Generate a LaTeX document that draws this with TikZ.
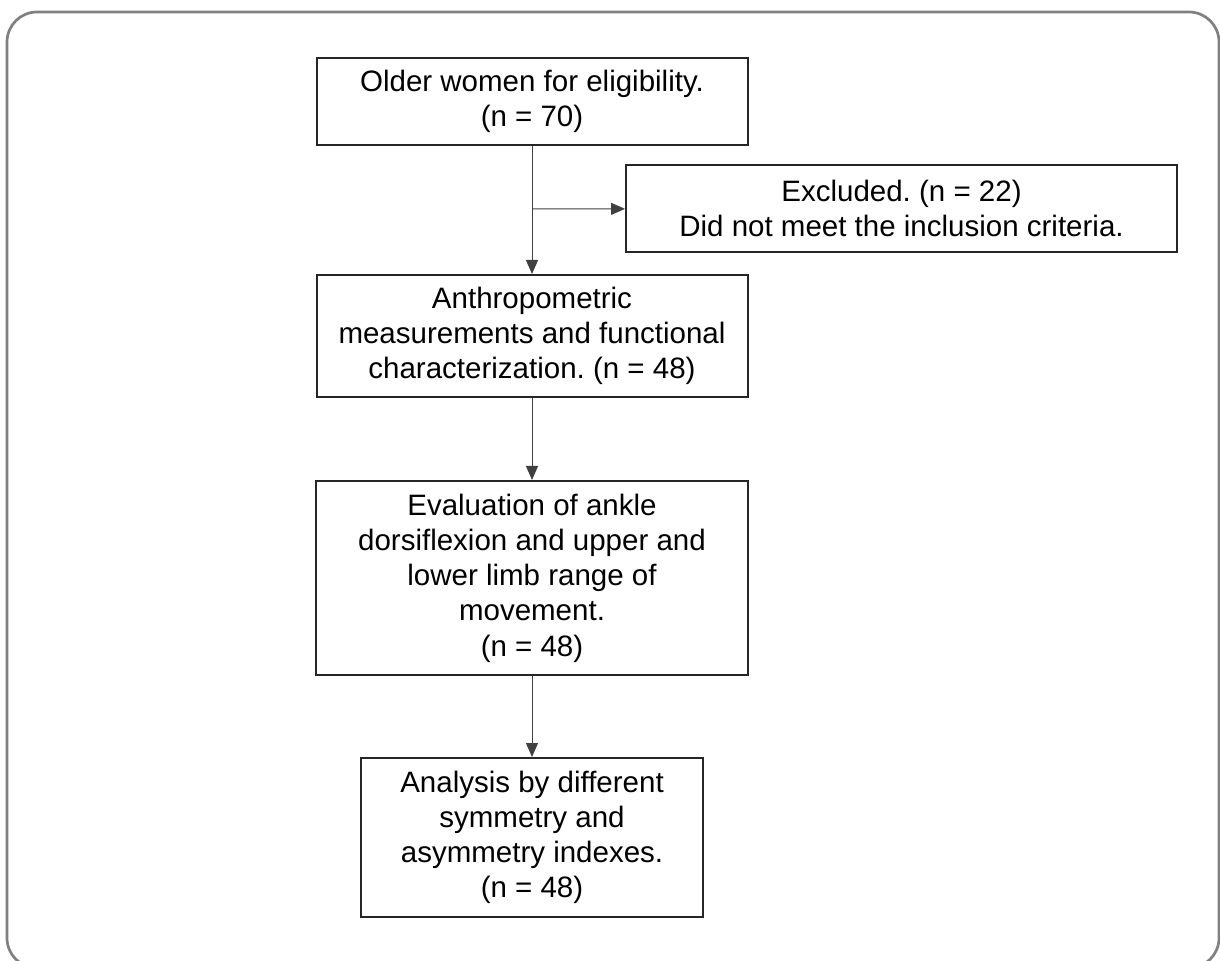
\documentclass[tikz,border=0pt]{standalone}
\usepackage{fontspec}
\setmainfont{Liberation Sans}
\usetikzlibrary{arrows.meta}
\frenchspacing
\begin{document}
\begin{tikzpicture}[x=0.5pt,y=-0.5pt,
    box/.style={draw=black!85,line width=1pt,align=center,inner sep=0pt,
      font=\fontsize{14.75}{17.6}\selectfont,text=black},
    flow/.style={draw=black!75,line width=0.5pt,-{Triangle[length=7pt,width=6pt]}}]
  \useasboundingbox (0,0) rectangle (1220,961);
  \draw[black!50,line width=1.35pt,rounded corners=15pt] (7,12) rectangle (1219,968);
  \draw
    (532,101.5) node[box,minimum width=215.5pt,minimum height=43.5pt] (older){Older women for eligibility.\\(n = 70)}
    (901.5,208.5) node[box,minimum width=275.5pt,minimum height=43.5pt] (excl){Excluded. (n = 22)\\Did not meet the inclusion criteria.}
    (532,336) node[box,minimum width=215.5pt,minimum height=61pt] (anthro){Anthropometric\\measurements and functional\\characterization. (n = 48)}
    (532,578) node[box,minimum width=216pt,minimum height=97pt] (eval){Evaluation of ankle\\dorsiflexion and upper and\\lower limb range of\\movement.\\(n = 48)}
    (532,837.5) node[box,minimum width=171pt,minimum height=79.5pt] (analysis){Analysis by different\\symmetry and\\asymmetry indexes.\\(n = 48)};
  \coordinate (split) at (532,209);
  \begin{scope}[flow]
    \draw (older) to (anthro);
    \draw (split) to (excl);
    \draw (anthro) to (eval);
    \draw (eval) to (analysis);
  \end{scope}
\end{tikzpicture}
\end{document}
